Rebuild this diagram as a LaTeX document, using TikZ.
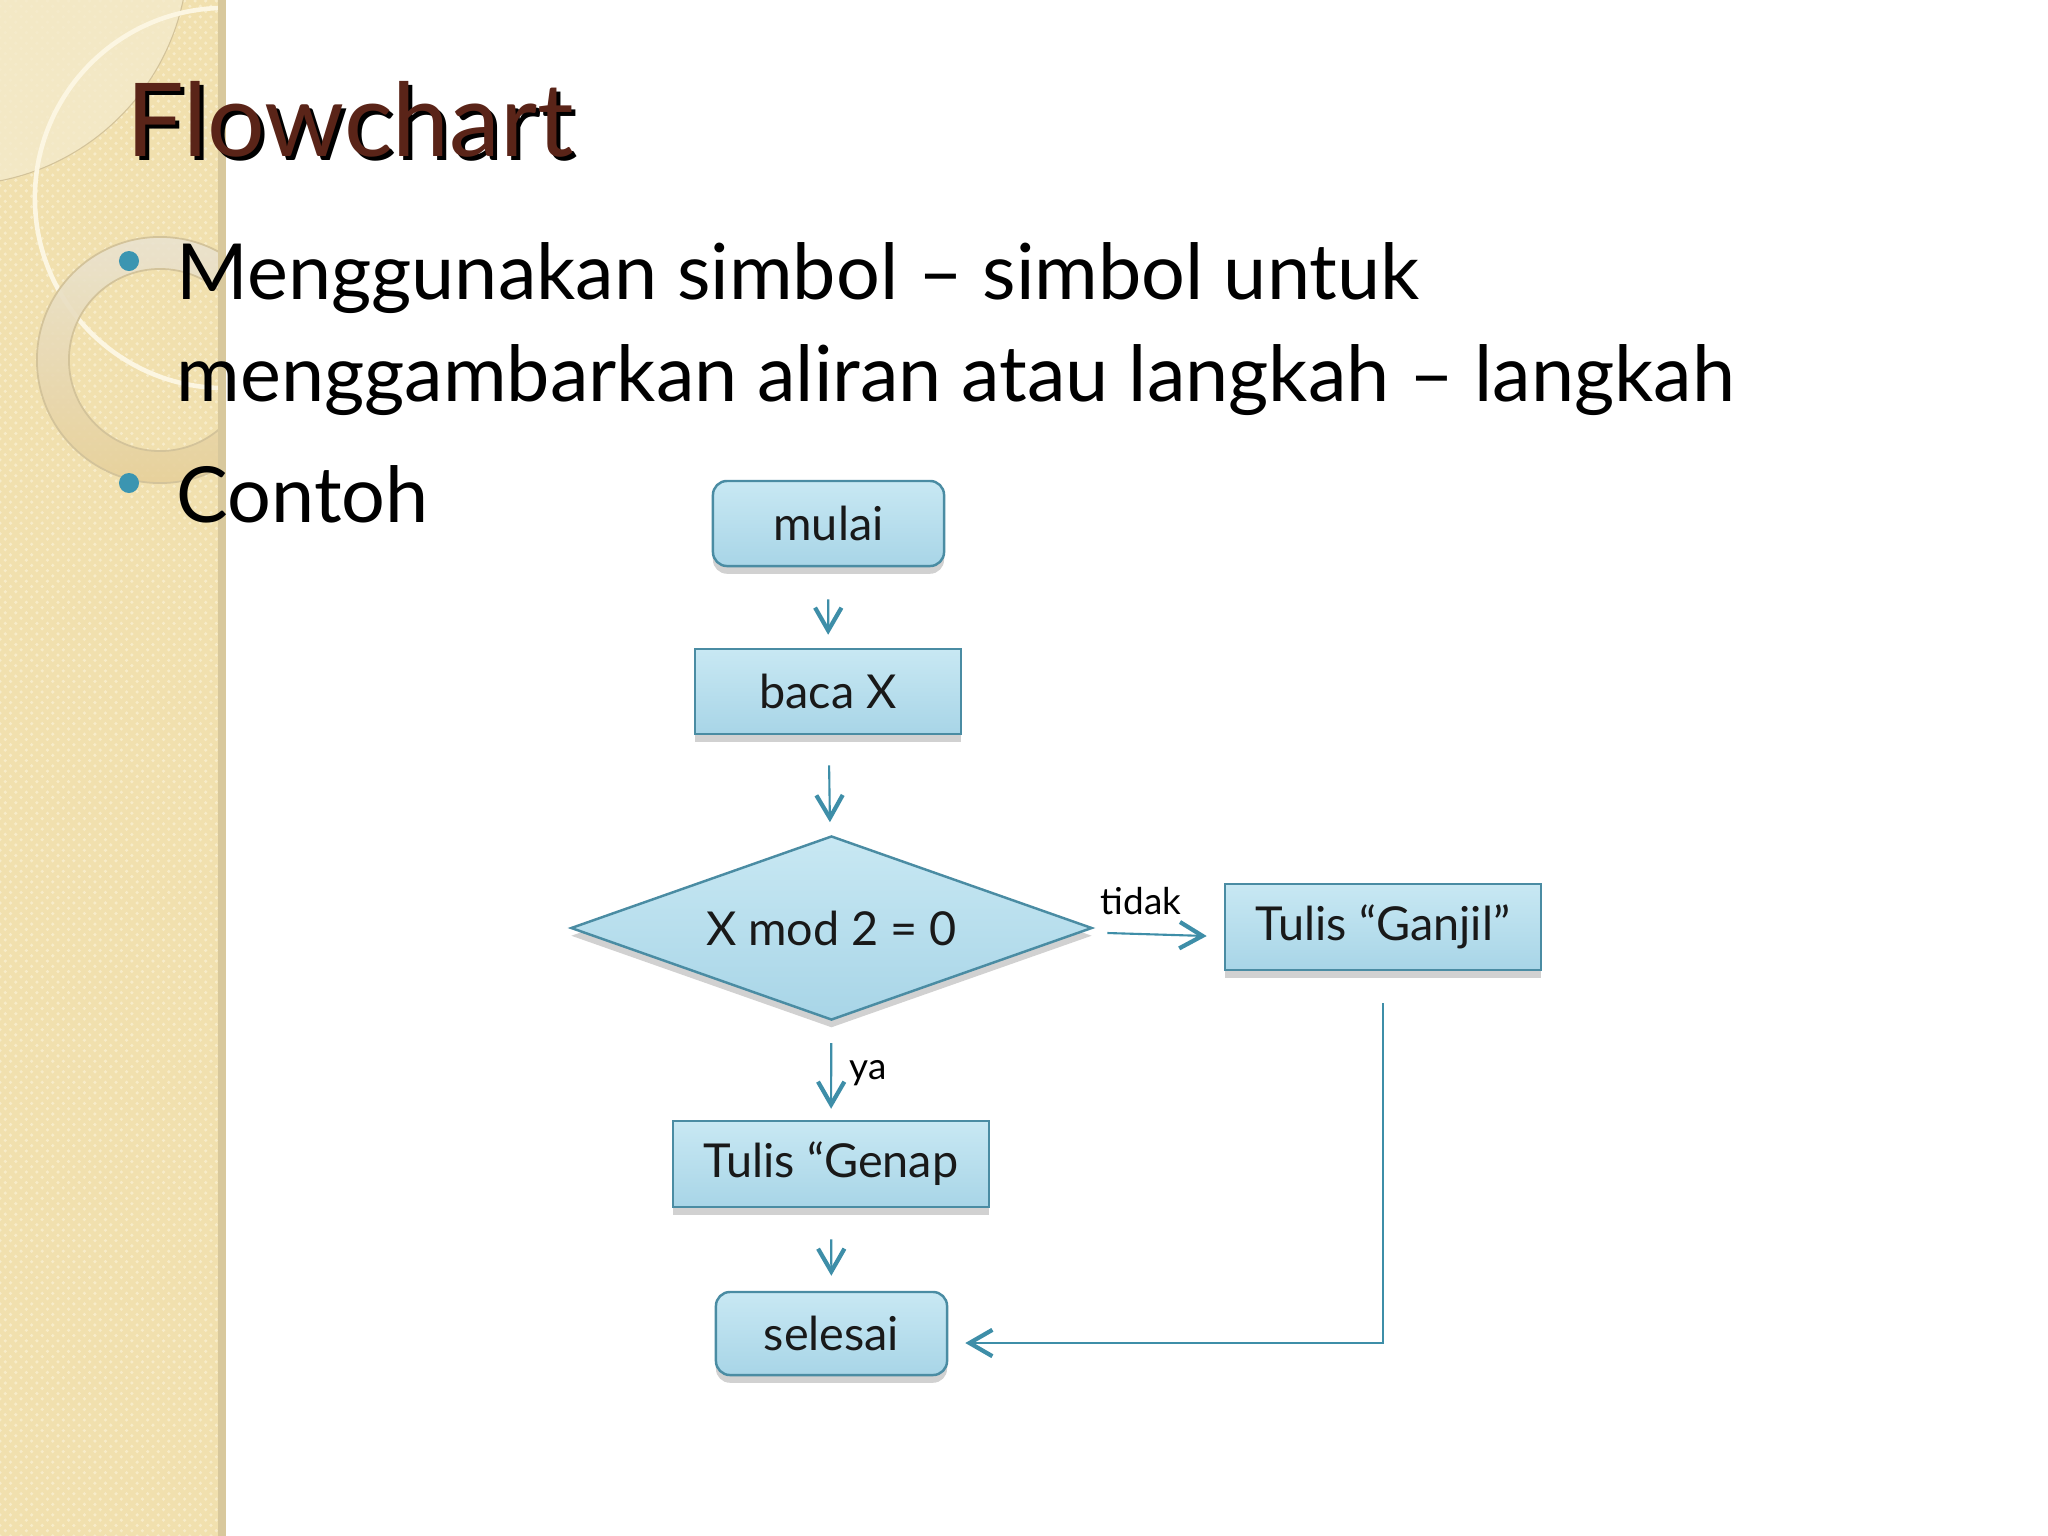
\documentclass[tikz,border=0pt]{standalone}
\usepackage{fontspec}
\setmainfont{Lato}
\usetikzlibrary{shapes.geometric,arrows.meta,shadows,calc,patterns}

\definecolor{stripc}{HTML}{F1E0AE}
\definecolor{stripdot}{HTML}{F7ECC9}
\definecolor{stripedge}{HTML}{D8C89C}
\definecolor{lightarc}{HTML}{F4EACB}
\definecolor{thinring}{HTML}{FCF6E2}
\definecolor{ringtop}{HTML}{EAE3D0}
\definecolor{ringbot}{HTML}{E7D09A}
\definecolor{ringline}{HTML}{D3C39A}
\definecolor{arrowc}{HTML}{3E8EA8}
\definecolor{boxtop}{HTML}{C8E8F3}
\definecolor{boxbot}{HTML}{A8D5E7}
\definecolor{boxline}{HTML}{4A8CA3}
\definecolor{titlebrown}{HTML}{5A2418}
\definecolor{bulletc}{HTML}{3B95B1}

\tikzset{
  procbox/.style={draw=boxline, line width=0.7pt, top color=boxtop, bottom color=boxbot,
    drop shadow={shadow xshift=0pt, shadow yshift=-2.2pt, opacity=0.18, fill=black},
    font=\fontsize{13.3}{15}\selectfont, text=black!90, inner sep=0pt,
    minimum height=0.85cm},
  termbox/.style={procbox, rounded corners=0.14cm},
  decbox/.style={procbox, diamond, shape aspect=2.83, minimum width=5.21cm, minimum height=1.84cm},
  conn/.style={draw=arrowc, line width=0.6pt,
    -{Straight Barb[length=6.5pt,width=7.5pt,line width=1.2pt]}},
  lbl/.style={font=\fontsize{10.5}{12}\selectfont, text=black, inner sep=0pt},
  bul/.style={anchor=base west, font=\fontsize{22}{26}\selectfont, text=black, inner sep=0pt},
}

\begin{document}
\begin{tikzpicture}[x=0.01cm,y=-0.01cm]
\useasboundingbox (0,0) rectangle (2048,1536);
\fill[white] (0,0) rectangle (2048,1536);

% left decorative strip
\begin{scope}
  \clip (0,0) rectangle (218,1536);
  \fill[stripc] (0,0) rectangle (218,1536);
  \fill[pattern=crosshatch dots, pattern color=stripdot] (0,0) rectangle (218,1536);
  \fill[lightarc, opacity=0.8] (-45,-48) circle (2.33cm);
  \draw[ringline, line width=0.3pt] (-45,-48) circle (2.33cm);
  \draw[thinring, line width=1.3pt] (225,198) circle (1.90cm);
  \shade[even odd rule, top color=ringtop, bottom color=ringbot, opacity=0.9]
    (160,360) circle (1.23cm) (160,360) circle (0.91cm);
  \draw[ringline, line width=0.5pt] (160,360) circle (1.23cm);
  \draw[ringline, line width=0.5pt] (160,360) circle (0.91cm);
\end{scope}
\fill[stripedge] (218,0) rectangle (226,1536);

% title
\node[anchor=base west, inner sep=0pt, font=\fontsize{29}{34}\selectfont, text=black]
  (titleshadow) at (130,160) {Flowchart};
\node[anchor=base west, inner sep=0pt, font=\fontsize{29}{34}\selectfont, text=titlebrown]
  (title) at (126,156) {Flowchart};

% bullets
\fill[bulletc] (129,261) circle (0.10cm);
\fill[bulletc] (129,483) circle (0.10cm);
\node[bul] (b1) at (176,299) {Menggunakan simbol -- simbol untuk};
\node[bul] (b2) at (176,401) {menggambarkan aliran atau langkah -- langkah};
\node[bul] (b3) at (176,522) {Contoh};

% flowchart nodes
\node[termbox, minimum width=2.31cm] (mulai) at (828.5,523.5) {mulai};
\node[procbox, minimum width=2.66cm] (baca) at (828,691.5) {baca X};
\node[decbox] (dec) at (831.5,928) {X mod 2 = 0};
\node[procbox, minimum width=3.16cm, minimum height=0.86cm] (ganjil) at (1383,927) {Tulis “Ganjil”};
\node[procbox, minimum width=3.16cm, minimum height=0.86cm] (genap) at (831,1164) {Tulis “Genap};
\node[termbox, minimum width=2.31cm, minimum height=0.83cm] (selesai) at (831.5,1333.5) {selesai};

% connectors
\draw[conn, shorten <=0.32cm, shorten >=0.13cm] (mulai) -- (baca);
\draw[conn, shorten <=0.30cm, shorten >=0.13cm] (baca) -- (dec);
\draw[conn] ($(dec.east)+(0.14cm,-0.05cm)$) -- ($(ganjil.west)+(-0.17cm,-0.09cm)$);
\draw[conn, shorten <=0.22cm, shorten >=0.11cm] (dec) -- (genap);
\draw[conn, shorten <=0.31cm, shorten >=0.15cm] (genap) -- (selesai);
\draw[conn] ($(ganjil.south)+(0,-0.32cm)$) |- ($(selesai.east)+(0.17cm,-0.095cm)$);

% labels
\node[lbl] (tidak) at (1141,901) {tidak};
\node[lbl] (ya) at (868,1073) {ya};
\end{tikzpicture}
\end{document}
